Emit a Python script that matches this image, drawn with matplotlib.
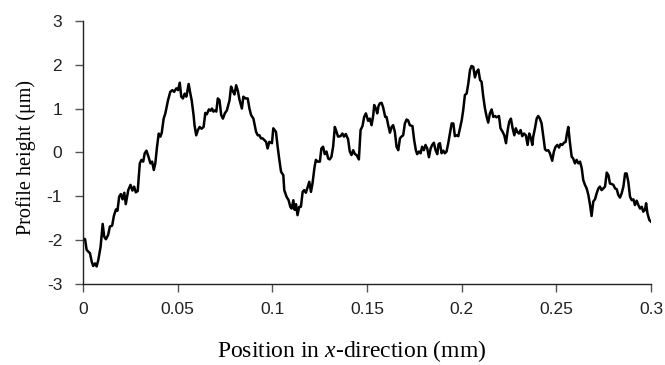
import matplotlib
matplotlib.use("Agg")
import matplotlib.pyplot as plt

# surface profile (position in mm, height in um)
pos_mm = [
    0.0000, 0.0011, 0.0019, 0.0028, 0.0037, 0.0046, 0.0054, 0.0063, 0.0072, 0.0081,
    0.0093, 0.0104, 0.0112, 0.0121, 0.0133, 0.0142, 0.0154, 0.0163, 0.0174, 0.0182,
    0.0191, 0.0200, 0.0209, 0.0218, 0.0226, 0.0239, 0.0251, 0.0261, 0.0270, 0.0279,
    0.0289, 0.0300, 0.0309, 0.0318, 0.0326, 0.0335, 0.0346, 0.0356, 0.0365, 0.0374,
    0.0382, 0.0391, 0.0400, 0.0409, 0.0416, 0.0426, 0.0435, 0.0440, 0.0449, 0.0461,
    0.0472, 0.0481, 0.0493, 0.0502, 0.0511, 0.0519, 0.0528, 0.0537, 0.0546, 0.0558,
    0.0567, 0.0574, 0.0584, 0.0589, 0.0598, 0.0607, 0.0616, 0.0626, 0.0637, 0.0646,
    0.0654, 0.0665, 0.0674, 0.0681, 0.0689, 0.0698, 0.0704, 0.0712, 0.0721, 0.0730,
    0.0739, 0.0749, 0.0760, 0.0774, 0.0782, 0.0791, 0.0800, 0.0809, 0.0818, 0.0826,
    0.0839, 0.0847, 0.0858, 0.0870, 0.0879, 0.0888, 0.0900, 0.0914, 0.0923, 0.0932,
    0.0940, 0.0949, 0.0967, 0.0975, 0.0984, 0.0998, 0.1005, 0.1012, 0.1019, 0.1028,
    0.1037, 0.1046, 0.1058, 0.1063, 0.1075, 0.1086, 0.1095, 0.1102, 0.1111, 0.1118,
    0.1125, 0.1133, 0.1142, 0.1151, 0.1160, 0.1168, 0.1177, 0.1186, 0.1195, 0.1204,
    0.1212, 0.1223, 0.1230, 0.1239,
    0.1251, 0.1259, 0.1268, 0.1277, 0.1286, 0.1295, 0.1303, 0.1312, 0.1321, 0.1330,
    0.1339, 0.1347, 0.1360, 0.1370, 0.1378, 0.1388, 0.1400, 0.1409, 0.1418, 0.1427,
    0.1436, 0.1445, 0.1457, 0.1466, 0.1476, 0.1485, 0.1494, 0.1506, 0.1515, 0.1524,
    0.1533, 0.1538, 0.1547, 0.1554, 0.1561, 0.1568, 0.1577, 0.1585, 0.1596, 0.1603,
    0.1612, 0.1621, 0.1630, 0.1638, 0.1647, 0.1656, 0.1665, 0.1674, 0.1682, 0.1691,
    0.1700, 0.1709, 0.1717, 0.1726, 0.1740, 0.1749, 0.1758, 0.1765, 0.1774, 0.1783,
    0.1791, 0.1800, 0.1809, 0.1818, 0.1827, 0.1836, 0.1844, 0.1853, 0.1862, 0.1871,
    0.1878, 0.1885, 0.1894, 0.1903, 0.1911, 0.1920, 0.1929, 0.1938, 0.1947, 0.1956,
    0.1964, 0.1973, 0.1982, 0.1991, 0.2000, 0.2008, 0.2017, 0.2026, 0.2035, 0.2044,
    0.2052, 0.2061, 0.2070, 0.2079, 0.2088, 0.2097, 0.2105, 0.2114, 0.2123, 0.2132,
    0.2140, 0.2149, 0.2158, 0.2167, 0.2176, 0.2184, 0.2197, 0.2205, 0.2216, 0.2225,
    0.2234, 0.2243, 0.2251, 0.2260, 0.2269, 0.2278, 0.2286, 0.2293, 0.2302, 0.2311,
    0.2320, 0.2329, 0.2339, 0.2348, 0.2357, 0.2366, 0.2373, 0.2378, 0.2387, 0.2396,
    0.2404, 0.2413, 0.2422, 0.2431, 0.2440, 0.2448, 0.2457, 0.2466, 0.2478, 0.2487,
    0.2496, 0.2505, 0.2514, 0.2522, 0.2531, 0.2540, 0.2549, 0.2556, 0.2563, 0.2572,
    0.2581, 0.2589, 0.2598, 0.2607, 0.2616, 0.2625, 0.2634, 0.2642, 0.2651, 0.2660,
    0.2669, 0.2678, 0.2686, 0.2695, 0.2704, 0.2713, 0.2722, 0.2730, 0.2739, 0.2748,
    0.2757, 0.2766, 0.2775, 0.2783, 0.2792, 0.2801, 0.2810, 0.2819, 0.2827, 0.2836,
    0.2845, 0.2854, 0.2863, 0.2871, 0.2880, 0.2889, 0.2898, 0.2907, 0.2915, 0.2924,
    0.2933, 0.2942, 0.2951, 0.2959, 0.2968, 0.2974, 0.2981, 0.2991, 0.3000,
]
height_um = [
    -1.96, -1.98, -2.22, -2.26, -2.30, -2.49, -2.59, -2.53, -2.60, -2.45,
    -2.15, -1.63, -1.92, -1.98, -1.88, -1.69, -1.67, -1.45, -1.30, -1.33,
    -1.01, -0.95, -1.07, -0.92, -1.18, -0.86, -0.74, -0.87, -0.78, -0.91,
    -0.88, -0.25, -0.17, -0.21, -0.02, 0.04, -0.10, -0.25, -0.21, -0.40,
    -0.25, 0.13, 0.43, 0.36, 0.45, 0.77, 0.89, 1.00, 1.19, 1.38,
    1.42, 1.38, 1.46, 1.42, 1.59, 1.27, 1.23, 1.34, 1.27, 1.56,
    1.34, 1.19, 0.85, 0.62, 0.39, 0.51, 0.58, 0.54, 0.58, 0.90,
    0.87, 0.98, 0.95, 1.00, 0.93, 0.96, 0.93, 1.23, 1.19, 0.85,
    0.77, 0.89, 0.96, 1.19, 1.50, 1.40, 1.32, 1.53, 1.40, 1.21,
    1.00, 1.27, 1.23, 1.23, 1.00, 0.85, 0.77, 0.47, 0.39, 0.39,
    0.32, 0.32, 0.24, 0.09, 0.24, 0.21, 0.55, 0.51, 0.47, 0.13,
    -0.17, -0.44, -0.52, -0.86, -1.01, -1.09, -1.24, -1.28, -1.09, -1.31,
    -1.18, -1.43, -1.24, -1.24, -0.90, -0.86, -0.92, -0.80, -0.67, -0.90,
    -0.71, -0.33, -0.17, -0.21,
    -0.21, 0.09, 0.13, -0.04, 0.02, -0.14, -0.16, -0.10, 0.13, 0.58,
    0.47, 0.36, 0.37, 0.43, 0.36, 0.42, 0.30, 0.02, -0.06, 0.05,
    -0.04, -0.06, -0.16, 0.51, 0.60, 0.81, 0.89, 0.72, 0.77, 0.62,
    0.85, 1.08, 1.00, 0.89, 1.06, 1.12, 1.13, 1.03, 0.81, 0.81,
    0.62, 0.45, 0.58, 0.62, 0.47, 0.13, 0.05, 0.32, 0.36, 0.39,
    0.66, 0.75, 0.73, 0.62, 0.60, 0.28, 0.05, -0.04, 0.02, -0.02,
    0.13, 0.05, 0.17, 0.09, -0.11, 0.09, 0.17, 0.22, 0.05, -0.04,
    0.19, 0.21, -0.02, 0.04, -0.02, 0.02, 0.21, 0.43, 0.66, 0.66,
    0.37, 0.39, 0.37, 0.55, 0.73, 0.96, 1.31, 1.34, 1.57, 1.88,
    1.97, 1.95, 1.71, 1.84, 1.89, 1.65, 1.61, 1.27, 1.00, 0.81,
    0.68, 0.89, 0.98, 0.81, 0.83, 0.80, 0.83, 0.55, 0.47, 0.39,
    0.21, 0.51, 0.70, 0.77, 0.55, 0.39, 0.55, 0.47, 0.43, 0.51,
    0.37, 0.43, 0.39, 0.17, 0.43, 0.32, 0.17, 0.36, 0.55, 0.77,
    0.83, 0.77, 0.66, 0.37, 0.07, 0.04, 0.05, -0.02, -0.19, 0.02,
    0.13, 0.17, 0.11, 0.19, 0.17, 0.22, 0.24, 0.43, 0.58, 0.21,
    -0.10, -0.14, -0.25, -0.17, -0.25, -0.21, -0.36, -0.63, -0.74, -0.82,
    -0.97, -1.20, -1.45, -1.12, -1.07, -0.93, -0.82, -0.78, -0.86, -0.82,
    -0.78, -0.46, -0.52, -0.71, -0.72, -0.74, -0.82, -0.84, -0.97, -1.03,
    -0.93, -0.78, -0.48, -0.48, -0.67, -1.01, -1.09, -1.07, -1.20, -1.10,
    -1.20, -1.28, -1.24, -1.35, -1.31, -1.16, -1.39, -1.54, -1.58,
]

x_ticks = [0, 0.05, 0.1, 0.15, 0.2, 0.25, 0.3]
x_labels = ["0", "0.05", "0.1", "0.15", "0.2", "0.25", "0.3"]
y_ticks = [-3, -2, -1, 0, 1, 2, 3]
y_labels = ["-3", "-2", "-1", "0", "1", "2", "3"]

plt.rcParams["mathtext.fontset"] = "custom"
plt.rcParams["mathtext.rm"] = "Liberation Serif"
plt.rcParams["mathtext.it"] = "Liberation Serif:italic"

fig = plt.figure(figsize=(6.65, 3.65), dpi=100)
ax = fig.add_axes([0.1248, 0.2219, 0.8542, 0.7211])

ax.plot(pos_mm, height_um, color="black", lw=1.8, solid_joinstyle="round")

ax.set_xlim(0, 0.3)
ax.set_ylim(-3, 3)
ax.set_xticks(x_ticks)
ax.set_xticklabels(x_labels)
ax.set_yticks(y_ticks)
ax.set_yticklabels(y_labels)

for side in ("top", "right"):
    ax.spines[side].set_visible(False)
for side in ("left", "bottom"):
    ax.spines[side].set_linewidth(1.0)
    ax.spines[side].set_color("#222222")

ax.tick_params(axis="both", direction="out", length=6, width=1.0,
               color="#555555", labelsize=12.5, labelcolor="#222222")
ax.tick_params(axis="x", pad=7)
ax.tick_params(axis="y", pad=9)
for lab in ax.get_xticklabels() + ax.get_yticklabels():
    lab.set_family("Liberation Sans")

ax.set_xlabel("Position in $\\mathit{x}$-direction (mm)", family="Liberation Serif",
              fontsize=17)
ax.xaxis.set_label_coords(0.4736, -0.205)
ax.set_ylabel("Profile height (\u03bcm)", family="Liberation Serif",
              fontsize=14.5)
ax.yaxis.set_label_coords(-0.083, 0.482)

fig.savefig("out.png", dpi=100)
